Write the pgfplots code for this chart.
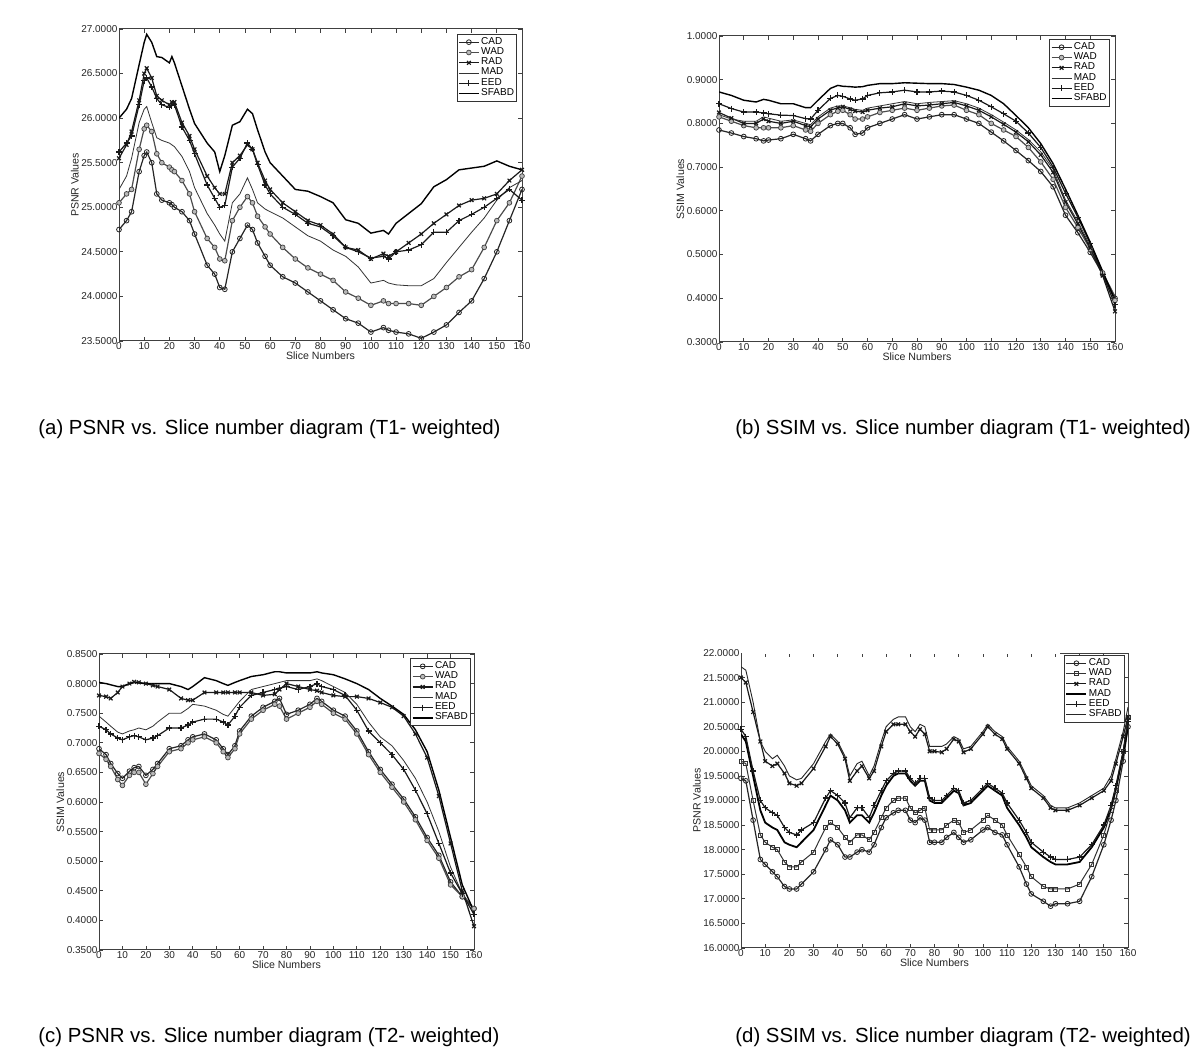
\documentclass[border=0pt]{standalone}
\usepackage{fontspec}
\setmainfont{Liberation Sans}
\usepackage{pgfplots}
\usepackage{pgfplotstable}
\pgfplotsset{compat=1.18}

\pgfplotstableread{
x CAD WAD RAD MAD EED SFABD
0 24.75 25.05 25.55 25.20 25.62 26.00
3 24.85 25.15 25.70 25.35 25.72 26.10
5 24.95 25.20 25.85 25.55 25.80 26.22
8 25.40 25.65 26.20 25.95 26.15 26.60
10 25.58 25.88 26.50 26.10 26.42 26.85
11 25.62 25.92 26.56 26.13 26.45 26.94
13 25.50 25.85 26.45 25.95 26.35 26.85
15 25.15 25.60 26.25 25.78 26.22 26.69
17 25.08 25.50 26.20 25.75 26.15 26.68
20 25.05 25.45 26.15 25.72 26.12 26.62
21 25.03 25.42 26.18 25.70 26.14 26.69
22 25.00 25.40 26.18 25.68 26.15 26.62
25 24.95 25.30 25.95 25.57 25.90 26.36
28 24.85 25.15 25.80 25.40 25.75 26.10
30 24.70 24.95 25.65 25.22 25.60 25.94
35 24.35 24.65 25.35 24.93 25.25 25.72
38 24.25 24.55 25.22 24.80 25.10 25.62
40 24.10 24.42 25.15 24.70 25.00 25.40
42 24.08 24.40 25.15 24.62 25.02 25.58
45 24.50 24.85 25.50 25.05 25.45 25.92
48 24.65 25.00 25.58 25.15 25.55 25.96
51 24.80 25.12 25.70 25.33 25.72 26.10
53 24.75 25.05 25.65 25.20 25.65 26.05
55 24.60 24.90 25.50 25.05 25.48 25.87
58 24.45 24.78 25.30 24.98 25.25 25.62
60 24.35 24.70 25.20 24.95 25.15 25.50
65 24.22 24.55 25.05 24.88 25.00 25.35
70 24.15 24.42 24.95 24.78 24.92 25.20
75 24.05 24.32 24.85 24.68 24.82 25.18
80 23.95 24.25 24.80 24.62 24.78 25.12
85 23.85 24.18 24.70 24.52 24.68 25.05
90 23.75 24.05 24.55 24.45 24.55 24.86
95 23.70 23.98 24.52 24.33 24.50 24.82
100 23.60 23.90 24.42 24.15 24.43 24.71
105 23.65 23.95 24.48 24.18 24.45 24.74
107 23.62 23.92 24.45 24.15 24.42 24.70
110 23.60 23.92 24.50 24.13 24.50 24.82
115 23.58 23.92 24.60 24.12 24.52 24.93
120 23.53 23.90 24.70 24.12 24.58 25.04
125 23.60 24.00 24.82 24.20 24.72 25.23
130 23.68 24.10 24.92 24.38 24.72 25.31
135 23.82 24.22 25.02 24.55 24.85 25.42
140 23.95 24.30 25.08 24.72 24.92 25.44
145 24.20 24.55 25.10 24.88 25.00 25.46
150 24.50 24.85 25.15 25.08 25.10 25.52
155 24.85 25.05 25.30 25.22 25.20 25.46
160 25.20 25.35 25.42 25.30 25.08 25.42
}\tabA

\pgfplotstableread{
x CAD WAD RAD MAD EED SFABD
0 0.785 0.815 0.825 0.820 0.845 0.872
5 0.778 0.805 0.812 0.810 0.834 0.864
10 0.770 0.795 0.800 0.805 0.826 0.853
15 0.765 0.790 0.800 0.805 0.826 0.849
18 0.760 0.790 0.810 0.815 0.824 0.855
20 0.762 0.790 0.805 0.812 0.822 0.853
25 0.765 0.790 0.800 0.805 0.819 0.845
30 0.775 0.795 0.805 0.808 0.818 0.845
35 0.765 0.785 0.795 0.800 0.811 0.836
37 0.760 0.782 0.792 0.797 0.810 0.836
40 0.775 0.800 0.810 0.815 0.830 0.853
45 0.795 0.820 0.830 0.835 0.857 0.880
48 0.800 0.828 0.836 0.840 0.864 0.887
50 0.800 0.830 0.838 0.840 0.862 0.885
53 0.790 0.820 0.832 0.836 0.856 0.884
55 0.775 0.810 0.828 0.832 0.853 0.883
58 0.778 0.810 0.826 0.830 0.856 0.884
60 0.790 0.815 0.830 0.835 0.864 0.887
65 0.800 0.825 0.835 0.840 0.870 0.891
70 0.810 0.830 0.838 0.845 0.872 0.891
75 0.820 0.835 0.845 0.850 0.876 0.893
80 0.810 0.830 0.840 0.845 0.872 0.892
85 0.815 0.835 0.842 0.848 0.872 0.891
90 0.820 0.840 0.845 0.850 0.874 0.891
95 0.820 0.842 0.848 0.852 0.872 0.889
100 0.810 0.830 0.840 0.845 0.864 0.883
105 0.800 0.820 0.830 0.835 0.853 0.876
110 0.780 0.800 0.815 0.820 0.838 0.864
115 0.760 0.785 0.798 0.803 0.822 0.845
120 0.738 0.770 0.780 0.785 0.805 0.818
125 0.715 0.745 0.758 0.763 0.778 0.790
130 0.690 0.712 0.728 0.735 0.745 0.754
135 0.655 0.672 0.688 0.695 0.700 0.708
140 0.590 0.608 0.620 0.625 0.640 0.650
145 0.550 0.562 0.570 0.575 0.585 0.590
150 0.505 0.512 0.515 0.520 0.525 0.528
155 0.455 0.458 0.452 0.460 0.455 0.462
160 0.400 0.395 0.370 0.405 0.385 0.395
}\tabB

\pgfplotstableread{
x CAD WAD RAD MAD EED SFABD
0 0.690 0.682 0.780 0.745 0.728 0.802
3 0.680 0.672 0.778 0.735 0.722 0.800
5 0.665 0.660 0.775 0.728 0.715 0.798
8 0.648 0.638 0.785 0.718 0.708 0.795
10 0.640 0.628 0.795 0.715 0.705 0.795
13 0.652 0.645 0.800 0.720 0.710 0.800
15 0.658 0.650 0.803 0.722 0.712 0.802
17 0.660 0.650 0.802 0.725 0.710 0.801
20 0.645 0.630 0.800 0.722 0.705 0.800
23 0.655 0.648 0.797 0.728 0.708 0.800
25 0.665 0.660 0.795 0.735 0.712 0.800
30 0.690 0.685 0.790 0.750 0.725 0.800
35 0.695 0.690 0.775 0.750 0.725 0.795
38 0.705 0.700 0.772 0.758 0.730 0.790
40 0.710 0.705 0.772 0.765 0.735 0.795
45 0.715 0.710 0.785 0.762 0.740 0.810
50 0.705 0.700 0.785 0.755 0.740 0.805
53 0.690 0.685 0.785 0.748 0.735 0.800
55 0.680 0.675 0.785 0.745 0.730 0.797
58 0.695 0.690 0.785 0.760 0.745 0.802
60 0.720 0.715 0.785 0.770 0.760 0.805
65 0.745 0.740 0.785 0.790 0.780 0.812
70 0.760 0.755 0.780 0.795 0.785 0.815
75 0.770 0.765 0.782 0.800 0.790 0.820
77 0.775 0.762 0.790 0.802 0.792 0.820
80 0.748 0.740 0.800 0.805 0.795 0.818
85 0.755 0.750 0.795 0.805 0.790 0.818
90 0.765 0.760 0.790 0.805 0.795 0.818
93 0.775 0.770 0.788 0.808 0.800 0.820
95 0.770 0.765 0.785 0.805 0.795 0.818
100 0.755 0.750 0.780 0.795 0.790 0.815
105 0.745 0.740 0.778 0.785 0.780 0.808
110 0.720 0.715 0.778 0.765 0.755 0.800
115 0.685 0.680 0.775 0.735 0.720 0.790
120 0.655 0.650 0.768 0.710 0.700 0.775
125 0.630 0.625 0.760 0.695 0.680 0.762
130 0.605 0.600 0.745 0.670 0.655 0.748
135 0.575 0.570 0.715 0.640 0.620 0.722
140 0.540 0.535 0.675 0.600 0.580 0.685
145 0.510 0.505 0.610 0.550 0.530 0.620
150 0.465 0.460 0.530 0.490 0.480 0.540
155 0.440 0.440 0.450 0.445 0.445 0.460
160 0.420 0.420 0.390 0.420 0.410 0.415
}\tabC

\pgfplotstableread{
x CAD WAD RAD MAD EED SFABD
0 19.45 19.80 21.50 20.35 20.45 21.72
2 19.40 19.75 21.40 20.20 20.30 21.65
5 18.60 19.00 20.80 19.50 19.60 21.00
8 17.80 18.30 20.20 18.80 19.00 20.20
10 17.70 18.15 19.80 18.55 18.85 20.00
13 17.55 18.05 19.70 18.45 18.75 19.85
15 17.45 18.00 19.75 18.40 18.70 19.92
18 17.25 17.75 19.55 18.15 18.45 19.70
20 17.20 17.65 19.35 18.10 18.35 19.50
23 17.20 17.65 19.30 18.05 18.30 19.42
25 17.30 17.75 19.35 18.15 18.40 19.45
30 17.55 17.95 19.65 18.40 18.55 19.75
35 18.00 18.45 20.10 18.90 19.05 20.20
37 18.20 18.55 20.30 19.10 19.20 20.35
40 18.10 18.45 20.15 19.00 19.10 20.20
43 17.85 18.25 19.85 18.80 18.95 19.90
45 17.85 18.15 19.40 18.55 18.65 19.50
48 17.95 18.30 19.60 18.70 18.85 19.75
50 18.00 18.30 19.70 18.70 18.85 19.80
53 17.95 18.20 19.45 18.55 18.65 19.50
55 18.10 18.35 19.60 18.75 18.90 19.70
58 18.45 18.65 20.10 19.10 19.20 20.20
60 18.65 18.85 20.40 19.30 19.40 20.50
63 18.75 19.00 20.55 19.50 19.55 20.65
65 18.80 19.05 20.55 19.55 19.60 20.70
68 18.80 19.05 20.55 19.55 19.60 20.70
70 18.60 18.85 20.40 19.40 19.45 20.50
72 18.55 18.75 20.30 19.30 19.35 20.40
74 18.65 18.80 20.45 19.40 19.45 20.55
76 18.60 18.85 20.35 19.40 19.45 20.50
78 18.15 18.40 20.00 19.00 19.05 20.10
80 18.15 18.40 20.00 18.95 19.00 20.10
83 18.15 18.40 19.98 18.95 19.00 20.10
85 18.25 18.50 20.05 19.05 19.10 20.15
88 18.35 18.60 20.25 19.20 19.25 20.30
90 18.25 18.55 20.20 19.15 19.20 20.25
92 18.15 18.35 19.98 18.90 18.95 20.05
95 18.20 18.40 20.05 18.95 19.00 20.10
100 18.40 18.60 20.35 19.20 19.25 20.40
102 18.45 18.70 20.50 19.30 19.35 20.55
105 18.35 18.60 20.35 19.20 19.25 20.40
108 18.30 18.50 20.25 19.10 19.15 20.30
110 18.10 18.30 20.05 18.85 18.95 20.10
115 17.65 17.90 19.75 18.50 18.60 19.80
118 17.30 17.65 19.45 18.25 18.35 19.50
120 17.10 17.45 19.25 18.05 18.15 19.30
125 16.95 17.25 19.05 17.85 17.95 19.10
128 16.85 17.20 18.85 17.75 17.85 18.90
130 16.90 17.20 18.80 17.70 17.80 18.85
135 16.90 17.20 18.80 17.70 17.80 18.85
140 16.95 17.30 18.90 17.75 17.85 18.95
145 17.45 17.70 19.05 18.05 18.10 19.10
150 18.10 18.30 19.20 18.45 18.50 19.25
153 18.60 18.80 19.40 18.85 18.90 19.50
155 19.00 19.20 19.75 19.25 19.30 19.85
158 19.80 20.00 20.30 19.95 20.00 20.40
160 20.50 20.70 20.70 20.50 20.60 20.90
}\tabD

\pgfplotsset{
  panel/.style={
    scale only axis,
    xmin=0, xmax=160, xtick={0,10,...,160},
    tick align=inside, major tick length=2pt,
    every tick/.style={black!75, line width=0.35pt},
    axis line style={black!75, line width=0.5pt},
    tick label style={font=\fontsize{5}{6}\selectfont, inner sep=0.6pt, text=black!85},
    label style={font=\fontsize{5.3}{6}\selectfont, text=black!85},
    /pgf/number format/assume math mode=true,
    yticklabel={\pgfmathprintnumber[fixed,fixed zerofill,precision=4,assume math mode=true]{\tick}},
    xlabel={Slice Numbers},
    xlabel style={inner sep=0.5pt},
    ylabel style={inner sep=0.5pt},
    legend cell align=left,
    legend style={anchor=north east, font=\fontsize{5}{5}\selectfont, inner sep=0.6pt,
      row sep=-1.4pt, draw=black!80, nodes={inner sep=0.8pt}},
    legend image code/.code={\draw[mark repeat=2,mark phase=2,##1] plot coordinates {(0pt,0pt)(5pt,0pt)(10pt,0pt)};},
  },
  cad/.style={black!85, line width=0.6pt, mark=o, mark size=1.2pt, mark options={solid, line width=0.4pt}},
  wad/.style={black!70, line width=0.6pt, mark=*, mark size=1.2pt, mark options={fill=gray!55, draw=black!75, line width=0.35pt}},
  wadsq/.style={black!80, line width=0.5pt, mark=square, mark size=1.0pt, mark options={line width=0.35pt}},
  rad/.style={black!90, line width=0.6pt, mark=x, mark size=1.3pt},
  mad/.style={black!80, line width=0.4pt},
  madthick/.style={black, line width=0.9pt},
  eed/.style={black!90, line width=0.6pt, mark=+, mark size=1.5pt},
  sfabd/.style={black, line width=0.7pt},
  sfabdthin/.style={black!85, line width=0.45pt},
}

\begin{document}
\begin{tikzpicture}
\fill[white] (0,0) rectangle (600pt,531.5pt);
\path[use as bounding box] (0,0) rectangle (600pt,531.5pt);

% (a)
\begin{axis}[panel, at={(59.5pt,361pt)}, anchor=south west, width=201.5pt, height=156pt,
  ymin=23.5, ymax=27, ytick={23.5,24,24.5,25,25.5,26,26.5,27},
  ylabel={PSNR Values}, legend style={at={(0.988,0.984)}}]
\addplot[cad] table[x=x,y=CAD]{\tabA};
\addplot[wad] table[x=x,y=WAD]{\tabA};
\addplot[rad] table[x=x,y=RAD]{\tabA};
\addplot[mad] table[x=x,y=MAD]{\tabA};
\addplot[eed] table[x=x,y=EED]{\tabA};
\addplot[sfabd] table[x=x,y=SFABD]{\tabA};
\legend{CAD,WAD,RAD,MAD,EED,SFABD}
\end{axis}

% (b)
\begin{axis}[panel, at={(359.5pt,360.5pt)}, anchor=south west, width=198pt, height=153pt,
  ymin=0.3, ymax=1.0, ytick={0.3,0.4,0.5,0.6,0.7,0.8,0.9,1.0},
  ylabel={SSIM Values}, legend style={at={(0.987,0.990)}}]
\addplot[cad] table[x=x,y=CAD]{\tabB};
\addplot[wad] table[x=x,y=WAD]{\tabB};
\addplot[rad] table[x=x,y=RAD]{\tabB};
\addplot[mad] table[x=x,y=MAD]{\tabB};
\addplot[eed] table[x=x,y=EED]{\tabB};
\addplot[sfabd] table[x=x,y=SFABD]{\tabB};
\legend{CAD,WAD,RAD,MAD,EED,SFABD}
\end{axis}

% (c)
\begin{axis}[panel, at={(49.5pt,56.5pt)}, anchor=south west, width=187.5pt, height=148pt,
  ymin=0.35, ymax=0.85, ytick={0.35,0.4,0.45,0.5,0.55,0.6,0.65,0.7,0.75,0.8,0.85},
  ylabel={SSIM Values}, legend style={at={(0.992,0.986)}}]
\addplot[cad] table[x=x,y=CAD]{\tabC};
\addplot[wad] table[x=x,y=WAD]{\tabC};
\addplot[rad] table[x=x,y=RAD]{\tabC};
\addplot[mad] table[x=x,y=MAD]{\tabC};
\addplot[eed] table[x=x,y=EED]{\tabC};
\addplot[sfabd] table[x=x,y=SFABD]{\tabC};
\legend{CAD,WAD,RAD,MAD,EED,SFABD}
\end{axis}

% (d)
\begin{axis}[panel, at={(370.5pt,57.5pt)}, anchor=south west, width=193.5pt, height=147.5pt,
  ymin=16, ymax=22, ytick={16,16.5,17,17.5,18,18.5,19,19.5,20,20.5,21,21.5,22},
  ylabel={PSNR Values}, legend style={at={(0.992,0.993)}}]
\addplot[cad] table[x=x,y=CAD]{\tabD};
\addplot[wadsq] table[x=x,y=WAD]{\tabD};
\addplot[rad] table[x=x,y=RAD]{\tabD};
\addplot[madthick] table[x=x,y=MAD]{\tabD};
\addplot[eed] table[x=x,y=EED]{\tabD};
\addplot[sfabdthin] table[x=x,y=SFABD]{\tabD};
\legend{CAD,WAD,RAD,MAD,EED,SFABD}
\end{axis}
% (d) has no visible top frame line left of its legend
\draw[white, line width=0.9pt] (370.8pt,205pt) -- (530pt,205pt);

\node[anchor=base west, inner sep=0pt, font=\fontsize{10.2}{12}\selectfont] at (19pt,314pt) {(a) PSNR vs. Slice number diagram (T1- weighted)};
\node[anchor=base west, inner sep=0pt, font=\fontsize{10.2}{12}\selectfont] at (367.5pt,314pt) {(b) SSIM vs. Slice number diagram (T1- weighted)};
\node[anchor=base west, inner sep=0pt, font=\fontsize{10.2}{12}\selectfont] at (19pt,10pt) {(c) PSNR vs. Slice number diagram (T2- weighted)};
\node[anchor=base west, inner sep=0pt, font=\fontsize{10.2}{12}\selectfont] at (367.5pt,10pt) {(d) SSIM vs. Slice number diagram (T2- weighted)};
\end{tikzpicture}
\end{document}
